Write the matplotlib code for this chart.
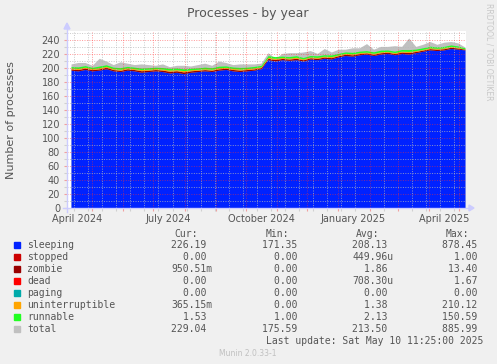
import numpy as np
import pandas as pd
import matplotlib
matplotlib.use('Agg')
import matplotlib.pyplot as plt
from matplotlib.lines import Line2D
from matplotlib.patches import Polygon, Rectangle

# weekly samples
dates = pd.date_range('2024-04-10', periods=57, freq='7D')

sleeping = [197, 196, 198, 196, 197, 199, 196, 195, 197, 196,
            194, 195, 196, 195, 193, 194, 192, 194, 195, 196,
            195, 197, 198, 196, 195, 196, 197, 199, 212, 210,
            212, 211, 212, 210, 213, 212, 214, 213, 216, 218,
            217, 219, 220, 218, 220, 221, 219, 221, 220, 222,
            224, 226, 225, 226, 228, 227, 226]
zombie = [1.8, 1.9, 2.0, 1.8, 1.9, 2.1, 1.9, 1.8, 2.0, 1.9,
          2.2, 2.0, 1.9, 2.1, 2.4, 2.2, 2.5, 2.1, 1.9, 1.8,
          2.0, 1.9, 1.8, 2.0, 2.1, 1.9, 1.8, 1.7, 1.9, 2.3,
          1.8, 1.9, 2.0, 1.8, 1.7, 1.9, 1.8, 1.9, 1.7, 1.8,
          1.9, 1.8, 1.7, 1.8, 1.9, 1.7, 1.8, 1.9, 2.2, 1.8,
          1.7, 1.8, 1.9, 1.7, 1.8, 1.6, 1.0]
uninterruptible = [1.3, 1.5, 1.4, 1.2, 1.6, 1.4, 1.3, 1.5, 1.4, 1.3,
                   1.6, 1.4, 1.3, 1.5, 1.8, 1.6, 1.9, 1.5, 1.4, 1.3,
                   1.4, 1.5, 1.3, 1.4, 1.6, 1.3, 1.4, 1.2, 1.5, 1.7,
                   1.3, 1.4, 1.5, 1.3, 1.2, 1.4, 1.3, 1.5, 1.2, 1.3,
                   1.4, 1.3, 1.2, 1.3, 1.4, 1.2, 1.3, 1.4, 1.6, 1.3,
                   1.2, 1.3, 1.4, 1.2, 1.3, 1.1, 0.4]
runnable = [2.0, 2.3, 2.1, 2.0, 2.4, 2.2, 2.1, 2.3, 2.0, 2.1,
            2.2, 2.1, 2.0, 2.2, 2.4, 2.3, 2.5, 2.1, 2.0, 2.2,
            2.1, 2.3, 2.0, 2.1, 2.2, 2.0, 2.1, 1.9, 2.3, 2.4,
            2.0, 2.1, 2.2, 2.0, 2.1, 2.2, 2.0, 2.3, 2.1, 2.0,
            2.2, 2.1, 2.0, 2.1, 2.3, 2.0, 2.1, 2.2, 2.6, 2.0,
            2.1, 2.2, 2.0, 2.1, 2.0, 1.9, 1.5]
total = [206, 208, 208, 204, 214, 210, 205, 209, 207, 205,
         206, 205, 204, 206, 202, 204, 204, 203, 205, 207,
         204, 210, 208, 205, 206, 206, 206, 207, 222, 214,
         221, 222, 222, 223, 225, 221, 228, 223, 227, 227,
         229, 229, 235, 227, 231, 231, 232, 231, 243, 231,
         234, 238, 234, 237, 238, 236, 230]
stopped = [0.0] * len(dates)
dead = [0.0] * len(dates)
paging = [0.0] * len(dates)

names = ['sleeping', 'stopped', 'zombie', 'dead', 'paging',
         'uninterruptible', 'runnable', 'total']
colors = ['#0022ff', '#cc0000', '#990000', '#ff0000', '#00aaaa',
          '#ffa500', '#22ff22', '#c0c0c0']
cur = ['226.19', '0.00', '950.51m', '0.00', '0.00', '365.15m', '1.53', '229.04']
mins = ['171.35', '0.00', '0.00', '0.00', '0.00', '0.00', '1.00', '175.59']
avgs = ['208.13', '449.96u', '1.86', '708.30u', '0.00', '1.38', '2.13', '213.50']
maxs = ['878.45', '1.00', '13.40', '1.67', '0.00', '210.12', '150.59', '885.99']

tick_labels = ['April 2024', 'July 2024', 'October 2024', 'January 2025', 'April 2025']
tick_dates = pd.to_datetime(['2024-04-16', '2024-07-16', '2024-10-16', '2025-01-16', '2025-04-16'])

W, H = 497, 364
bg = '#f0f0f0'
txt = '#555555'

fig = plt.figure(figsize=(W / 100, H / 100), dpi=100, facecolor=bg)


def fx(x):
    return x / W


def fy(y):
    return 1 - y / H


ax = fig.add_axes([fx(67), fy(208), 399 / W, 177 / H])
ax.set_facecolor('white')

# total drawn behind the stack
ax.fill_between(dates, 0, total, color=colors[7], lw=0, zorder=1)

stack = [sleeping, stopped, zombie, dead, paging, uninterruptible, runnable]
base = np.zeros(len(dates))
for vals, c in zip(stack, colors[:7]):
    top = base + np.array(vals)
    ax.fill_between(dates, base, top, color=c, lw=0, zorder=1.5)
    base = top

ax.set_xlim(pd.Timestamp('2024-04-06'), pd.Timestamp('2025-05-08'))
ax.set_ylim(0, 253)

ax.set_yticks(np.arange(0, 241, 20))
ax.set_yticks(np.arange(10, 251, 20), minor=True)
ax.set_xticks(pd.date_range('2024-05-01', '2025-05-01', freq='MS'))
ax.set_xticks(pd.date_range('2024-04-13', '2025-05-08', freq='14D'), minor=True)
ax.set_xticklabels([])
ax.tick_params(axis='y', which='major', labelsize=7, labelcolor=txt, length=2,
               width=0.8, color='#f0a0a0', pad=3)
ax.tick_params(axis='y', which='minor', length=2, width=0.8, color='#d0d0d0')
ax.tick_params(axis='x', which='major', length=2, width=0.8, color='#f0a0a0')
ax.tick_params(axis='x', which='minor', length=2, width=0.8, color='#d0d0d0')

ax.set_axisbelow(False)
ax.grid(which='major', color='#ff3030', alpha=0.5, lw=0.7, linestyle=(0, (1, 1.5)))
ax.grid(which='minor', color='#b8b8b8', alpha=0.75, lw=0.7, linestyle=(0, (1, 1.5)))
for s in ax.spines.values():
    s.set_visible(False)

for d, lab in zip(tick_dates, tick_labels):
    ax.text(d, -0.035, lab, transform=ax.get_xaxis_transform(), ha='center',
            va='top', fontsize=7, color=txt)

# axes with arrows
axc = '#ccccff'
fig.add_artist(Line2D([fx(63), fx(470)], [fy(208), fy(208)], color=axc, lw=1))
fig.add_artist(Line2D([fx(67), fx(67)], [fy(212), fy(28)], color=axc, lw=1))
fig.add_artist(Polygon([[fx(469), fy(205)], [fx(474), fy(208)], [fx(469), fy(211)]],
                       closed=True, color=axc, transform=fig.transFigure))
fig.add_artist(Polygon([[fx(64), fy(29)], [fx(67), fy(23)], [fx(70), fy(29)]],
                       closed=True, color=axc, transform=fig.transFigure))

fig.text(fx(248), fy(13), 'Processes - by year', ha='center', va='center',
         fontsize=9, color=txt)
fig.text(fx(11), fy(120), 'Number of processes', rotation=90, ha='center',
         va='center', fontsize=8, color=txt)
fig.text(fx(489), fy(3), 'RRDTOOL / TOBI OETIKER', rotation=-90, ha='center',
         va='top', fontsize=5.5, color='#c8c8c8')

# legend, laid out on a monospace character grid
mono = 'DejaVu Sans Mono'
cw = 0.602 * 7 * 100 / 72
col_right = [212, 303, 393, 483]
for r, h in zip(col_right, ['Cur:', 'Min:', 'Avg:', 'Max:']):
    fig.text(fx(r - 14), fy(234), h, ha='right', va='center', fontsize=7,
             family=mono, color=txt)

for k, name in enumerate(names):
    y = 245.3 + 12 * k
    fig.add_artist(Rectangle((fx(14), fy(y + 3)), 6 / W, 6 / H, color=colors[k],
                             transform=fig.transFigure))
    fig.text(fx(27), fy(y), name, ha='left', va='center', fontsize=7,
             family=mono, color=txt)
    for r, v in zip(col_right, [cur[k], mins[k], avgs[k], maxs[k]]):
        s = v if v[-1].isalpha() else v + ' '
        fig.text(fx(r - len(s) * cw), fy(y), s, ha='left', va='center',
                 fontsize=7, family=mono, color=txt)

fig.text(fx(483), fy(341.3), 'Last update: Sat May 10 11:25:00 2025', ha='right',
         va='center', fontsize=7, family=mono, color=txt)
fig.text(fx(248), fy(353.3), 'Munin 2.0.33-1', ha='center', va='center',
         fontsize=5.5, color='#c0c0c0')

fig.savefig('out.png', dpi=100, facecolor=bg)
